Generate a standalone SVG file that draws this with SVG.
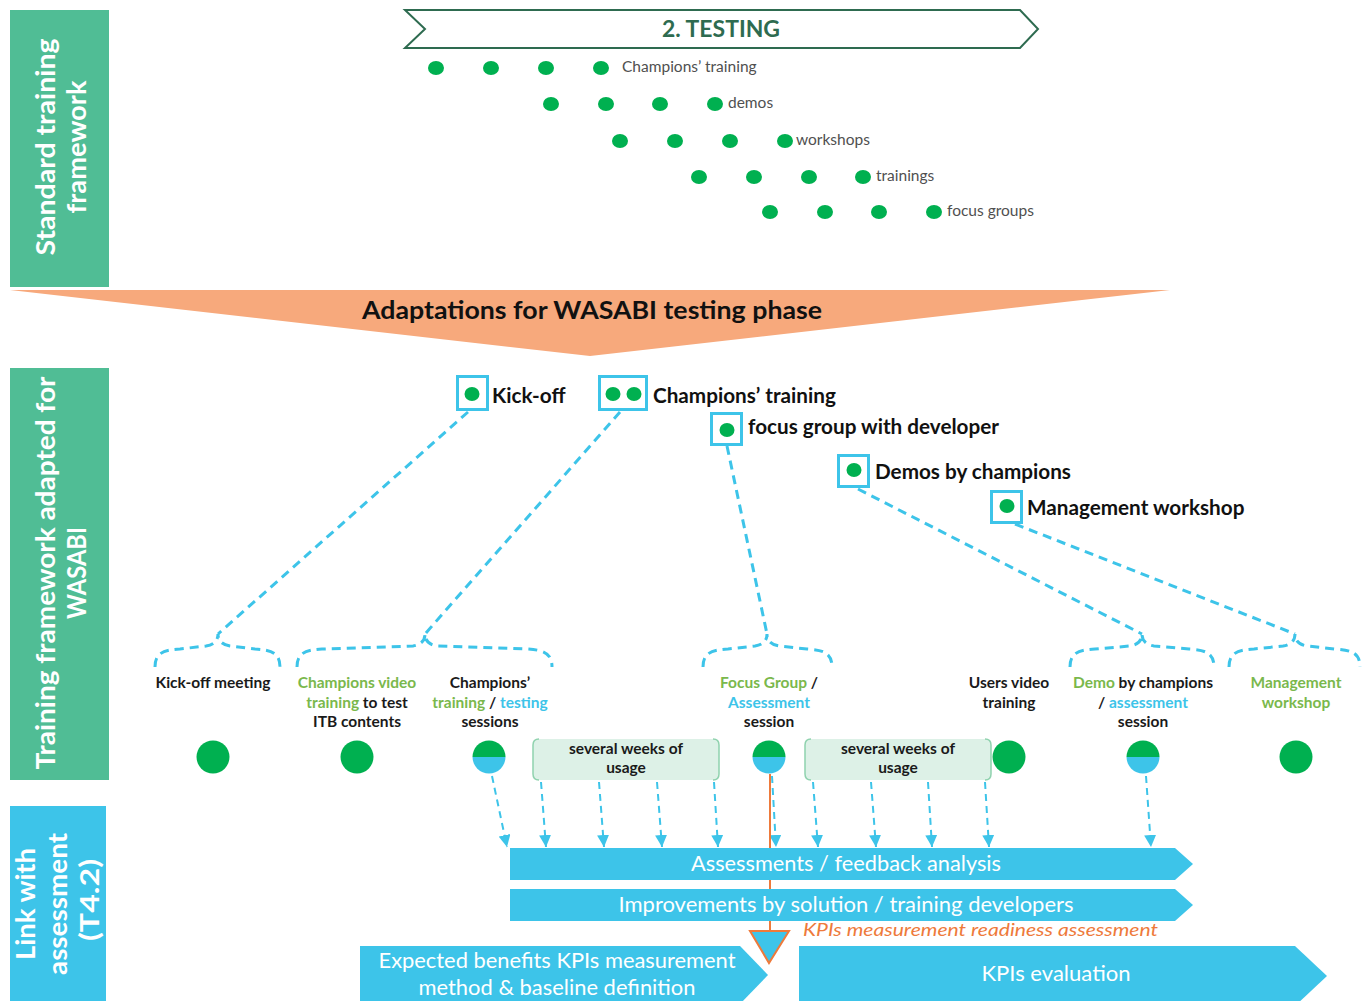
<svg xmlns="http://www.w3.org/2000/svg" width="1370" height="1001" viewBox="0 0 1370 1001">
<defs>
<style>
text{font-family:Lato,"Open Sans","Liberation Sans",sans-serif}
.side{fill:#ffffff;font-weight:bold;font-size:26px}
.dot{fill:#00B050}
.lbl{fill:#505050;font-size:15.5px}
.nlbl{fill:#111;font-weight:bold;font-size:20.7px}
.frame{fill:#fff;stroke:#3DC4E9;stroke-width:3}
.conn{fill:none;stroke:#3DC4E9;stroke-width:3;stroke-dasharray:9 6}
.arr{fill:none;stroke:#3DC4E9;stroke-width:2;stroke-dasharray:7 5}
.sm{font-weight:bold;font-size:15.5px;fill:#1a1a1a;text-anchor:middle}
.g{fill:#7AB84C}
.b{fill:#3DC4E9}
.bar{fill:#3DC4E9}
.bt{fill:#fff;font-size:21px;text-anchor:middle}
.wk{fill:#DDF1E7}
.wkb{fill:none;stroke:#8FD2AE;stroke-width:1.5}
</style>
<marker id="ah" viewBox="0 0 10 10" refX="10" refY="5" markerWidth="12" markerHeight="12" markerUnits="userSpaceOnUse" orient="auto">
<path d="M0,0 L10,5 L0,10 z" fill="#3DC4E9"/>
</marker>
</defs>
<rect width="1370" height="1001" fill="#fff"/>

<g id="side-standard">
<rect x="10" y="10" width="99" height="277" fill="#50BD95"/>
<text class="side" transform="translate(45,147) rotate(-90)" text-anchor="middle" dominant-baseline="central" textLength="217" lengthAdjust="spacingAndGlyphs">Standard training</text>
<text class="side" transform="translate(76,147) rotate(-90)" text-anchor="middle" dominant-baseline="central" textLength="133" lengthAdjust="spacingAndGlyphs">framework</text>
</g>
<g id="side-adapted">
<rect x="10" y="368" width="99" height="412" fill="#50BD95"/>
<text class="side" transform="translate(45,573) rotate(-90)" text-anchor="middle" dominant-baseline="central" textLength="393" lengthAdjust="spacingAndGlyphs">Training framework adapted for</text>
<text class="side" transform="translate(76,573) rotate(-90)" text-anchor="middle" dominant-baseline="central" textLength="92" lengthAdjust="spacingAndGlyphs">WASABI</text>
</g>
<g id="side-link">
<rect x="10" y="806" width="96" height="200" fill="#3DC4E9"/>
<text class="side" transform="translate(25,904) rotate(-90)" text-anchor="middle" dominant-baseline="central" textLength="112" lengthAdjust="spacingAndGlyphs">Link with</text>
<text class="side" transform="translate(57,904) rotate(-90)" text-anchor="middle" dominant-baseline="central" textLength="142" lengthAdjust="spacingAndGlyphs">assessment</text>
<text class="side" transform="translate(89,900) rotate(-90)" text-anchor="middle" dominant-baseline="central" textLength="82" lengthAdjust="spacingAndGlyphs">(T4.2)</text>
</g>

<g id="testing-header">
<polygon points="405,10 1020,10 1038,29 1020,48 405,48 425,29" fill="#fff" stroke="#2E6B50" stroke-width="2"/>
<text x="721" y="37" text-anchor="middle" font-size="23" font-weight="bold" fill="#2E6B50" textLength="118" lengthAdjust="spacingAndGlyphs">2. TESTING</text>
</g>

<g id="standard-rows">
<ellipse class="dot" cx="436" cy="68" rx="8" ry="7"/><ellipse class="dot" cx="491" cy="68" rx="8" ry="7"/><ellipse class="dot" cx="546" cy="68" rx="8" ry="7"/><ellipse class="dot" cx="601" cy="68" rx="8" ry="7"/>
<text class="lbl" x="622" y="72">Champions’ training</text>
<ellipse class="dot" cx="551" cy="104" rx="8" ry="7"/><ellipse class="dot" cx="606" cy="104" rx="8" ry="7"/><ellipse class="dot" cx="660" cy="104" rx="8" ry="7"/><ellipse class="dot" cx="715" cy="104" rx="8" ry="7"/>
<text class="lbl" x="728" y="108">demos</text>
<ellipse class="dot" cx="620" cy="141" rx="8" ry="7"/><ellipse class="dot" cx="675" cy="141" rx="8" ry="7"/><ellipse class="dot" cx="730" cy="141" rx="8" ry="7"/><ellipse class="dot" cx="785" cy="141" rx="8" ry="7"/>
<text class="lbl" x="796" y="145">workshops</text>
<ellipse class="dot" cx="699" cy="177" rx="8" ry="7"/><ellipse class="dot" cx="754" cy="177" rx="8" ry="7"/><ellipse class="dot" cx="809" cy="177" rx="8" ry="7"/><ellipse class="dot" cx="863" cy="177" rx="8" ry="7"/>
<text class="lbl" x="876" y="181">trainings</text>
<ellipse class="dot" cx="770" cy="212" rx="8" ry="7"/><ellipse class="dot" cx="825" cy="212" rx="8" ry="7"/><ellipse class="dot" cx="879" cy="212" rx="8" ry="7"/><ellipse class="dot" cx="934" cy="212" rx="8" ry="7"/>
<text class="lbl" x="947" y="216">focus groups</text>
</g>

<g id="adaptations-arrow">
<polygon points="10,290 1170,290 590,356" fill="#F7A97C"/>
<text x="592" y="319" text-anchor="middle" font-size="24" font-weight="bold" fill="#111" textLength="460" lengthAdjust="spacingAndGlyphs">Adaptations for WASABI testing phase</text>
</g>

<g id="connectors">
<line class="conn" x1="468" y1="412" x2="218" y2="634"/>
<line class="conn" x1="620" y1="412" x2="425" y2="634"/>
<line class="conn" x1="727" y1="446" x2="767" y2="634"/>
<line class="conn" x1="858" y1="489" x2="1142" y2="634"/>
<line class="conn" x1="1015" y1="524" x2="1295" y2="634"/>
<path class="conn" d="M155,667 C155,652 165,650 180,649 L206,646 Q218,644 218,634 Q218,644 230,646 L255,649 C270,650 280,652 280,667"/>
<path class="conn" d="M297,667 C297,652 307,650 322,649 L413,646 Q425,644 425,634 Q425,644 437,646 L527,649 C542,650 552,652 552,667"/>
<path class="conn" d="M703,667 C703,652 713,650 728,649 L755,646 Q767,644 767,634 Q767,644 779,646 L807,649 C822,650 832,652 832,667"/>
<path class="conn" d="M1070,667 C1070,652 1080,650 1095,649 L1130,646 Q1142,644 1142,634 Q1142,644 1154,646 L1189,649 C1204,650 1214,652 1214,667"/>
<path class="conn" d="M1229,667 C1229,652 1239,650 1254,649 L1283,646 Q1295,644 1295,634 Q1295,644 1307,646 L1335,649 C1350,650 1360,652 1360,667"/>
<line class="arr" x1="492" y1="776" x2="507" y2="847" marker-end="url(#ah)"/>
<line class="arr" x1="541" y1="782" x2="546" y2="847" marker-end="url(#ah)"/>
<line class="arr" x1="599" y1="782" x2="604" y2="847" marker-end="url(#ah)"/>
<line class="arr" x1="657" y1="782" x2="662" y2="847" marker-end="url(#ah)"/>
<line class="arr" x1="714" y1="782" x2="718" y2="847" marker-end="url(#ah)"/>
<line class="arr" x1="772" y1="776" x2="776" y2="847" marker-end="url(#ah)"/>
<line class="arr" x1="813" y1="782" x2="818" y2="847" marker-end="url(#ah)"/>
<line class="arr" x1="871" y1="782" x2="876" y2="847" marker-end="url(#ah)"/>
<line class="arr" x1="928" y1="782" x2="932" y2="847" marker-end="url(#ah)"/>
<line class="arr" x1="985" y1="782" x2="989" y2="847" marker-end="url(#ah)"/>
<line class="arr" x1="1146" y1="776" x2="1151" y2="847" marker-end="url(#ah)"/>
<line x1="770" y1="774" x2="770" y2="931" stroke="#EE7A3B" stroke-width="2"/>
</g>

<g id="node-kickoff">
<rect class="frame" x="457.5" y="376.5" width="30" height="33"/>
<ellipse class="dot" cx="472" cy="394" rx="7.5" ry="7"/>
<text class="nlbl" x="492" y="403">Kick-off</text>
</g>
<g id="node-champions">
<rect class="frame" x="599.5" y="376.5" width="47" height="33"/>
<ellipse class="dot" cx="613" cy="394" rx="7.5" ry="7"/>
<ellipse class="dot" cx="634" cy="394" rx="7.5" ry="7"/>
<text class="nlbl" x="653" y="403">Champions’ training</text>
</g>
<g id="node-focus">
<rect class="frame" x="711.5" y="413.5" width="30" height="31"/>
<ellipse class="dot" cx="727" cy="430" rx="7.5" ry="7"/>
<text class="nlbl" x="748" y="434">focus group with developer</text>
</g>
<g id="node-demos">
<rect class="frame" x="838.5" y="455.5" width="30" height="31"/>
<ellipse class="dot" cx="854" cy="470" rx="7.5" ry="7"/>
<text class="nlbl" x="875" y="479">Demos by champions</text>
</g>
<g id="node-mgmt">
<rect class="frame" x="991.5" y="491.5" width="30" height="31"/>
<ellipse class="dot" cx="1007" cy="506" rx="7.5" ry="7"/>
<text class="nlbl" x="1027" y="515">Management workshop</text>
</g>

<g id="step-kickoff-meeting">
<text class="sm" x="213" y="688">Kick-off meeting</text>
<circle cx="213" cy="757" r="16.5" fill="#00B050"/>
</g>
<g id="step-video-training">
<text class="sm" x="357" y="688"><tspan class="g">Champions video</tspan></text>
<text class="sm" x="357" y="708"><tspan class="g">training</tspan> to test</text>
<text class="sm" x="357" y="727">ITB contents</text>
<circle cx="357" cy="757" r="16.5" fill="#00B050"/>
</g>
<g id="step-champions-sessions">
<text class="sm" x="490" y="688">Champions’</text>
<text class="sm" x="490" y="708"><tspan class="g">training</tspan> / <tspan class="b">testing</tspan></text>
<text class="sm" x="490" y="727">sessions</text>
<path d="M472.5,757 A16.5,16.5 0 0 1 505.5,757 Z" fill="#00B050"/>
<path d="M472.5,757 A16.5,16.5 0 0 0 505.5,757 Z" fill="#3DC4E9"/>
</g>
<g id="usage-1">
<rect class="wk" x="533" y="739" width="186" height="41" rx="6"/>
<path class="wkb" d="M539,739 Q533,739 533,745 L533,774 Q533,780 539,780 M713,739 Q719,739 719,745 L719,774 Q719,780 713,780"/>
<text class="sm" x="626" y="754">several weeks of</text>
<text class="sm" x="626" y="773">usage</text>
</g>
<g id="step-focus-group">
<text class="sm" x="769" y="688"><tspan class="g">Focus Group</tspan> /</text>
<text class="sm" x="769" y="708"><tspan class="b">Assessment</tspan></text>
<text class="sm" x="769" y="727">session</text>
<path d="M752.5,757 A16.5,16.5 0 0 1 785.5,757 Z" fill="#00B050"/>
<path d="M752.5,757 A16.5,16.5 0 0 0 785.5,757 Z" fill="#3DC4E9"/>
</g>
<g id="usage-2">
<rect class="wk" x="805" y="739" width="186" height="41" rx="6"/>
<path class="wkb" d="M811,739 Q805,739 805,745 L805,774 Q805,780 811,780 M985,739 Q991,739 991,745 L991,774 Q991,780 985,780"/>
<text class="sm" x="898" y="754">several weeks of</text>
<text class="sm" x="898" y="773">usage</text>
</g>
<g id="step-users-video">
<text class="sm" x="1009" y="688">Users video</text>
<text class="sm" x="1009" y="708">training</text>
<circle cx="1009" cy="757" r="16.5" fill="#00B050"/>
</g>
<g id="step-demo">
<text class="sm" x="1143" y="688"><tspan class="g">Demo</tspan> by champions</text>
<text class="sm" x="1143" y="708">/ <tspan class="b">assessment</tspan></text>
<text class="sm" x="1143" y="727">session</text>
<path d="M1126.5,757 A16.5,16.5 0 0 1 1159.5,757 Z" fill="#00B050"/>
<path d="M1126.5,757 A16.5,16.5 0 0 0 1159.5,757 Z" fill="#3DC4E9"/>
</g>
<g id="step-mgmt-workshop">
<text class="sm" x="1296" y="688"><tspan class="g">Management</tspan></text>
<text class="sm" x="1296" y="708"><tspan class="g">workshop</tspan></text>
<circle cx="1296" cy="757" r="16.5" fill="#00B050"/>
</g>

<g id="bar-assessments">
<polygon class="bar" points="510,848 1175,848 1193,864 1175,880 510,880"/>
<text class="bt" x="846" y="871" textLength="310" lengthAdjust="spacingAndGlyphs">Assessments / feedback analysis</text>
</g>
<g id="bar-improvements">
<polygon class="bar" points="510,889 1175,889 1193,905 1175,921 510,921"/>
<text class="bt" x="846" y="912" textLength="455" lengthAdjust="spacingAndGlyphs">Improvements by solution / training developers</text>
</g>
<g id="kpi-readiness">
<polygon points="750,931 789,931 769,963" fill="#3DC4E9" stroke="#EE7A3B" stroke-width="2" stroke-linejoin="miter"/>
<text x="803" y="936" font-size="17" font-style="italic" fill="#EE7A3B" textLength="355" lengthAdjust="spacingAndGlyphs">KPIs measurement readiness assessment</text>
</g>
<g id="bar-expected">
<polygon class="bar" points="360,946 740,946 768,975 740,1004 360,1004"/>
<text class="bt" x="557" y="968" textLength="357" lengthAdjust="spacingAndGlyphs">Expected benefits KPIs measurement</text>
<text class="bt" x="557" y="995" textLength="277" lengthAdjust="spacingAndGlyphs">method &amp; baseline definition</text>
</g>
<g id="bar-kpi-eval">
<polygon class="bar" points="799,946 1295,946 1327,976 1295,1006 799,1006"/>
<text class="bt" x="1056" y="981" textLength="149" lengthAdjust="spacingAndGlyphs">KPIs evaluation</text>
</g>
</svg>
